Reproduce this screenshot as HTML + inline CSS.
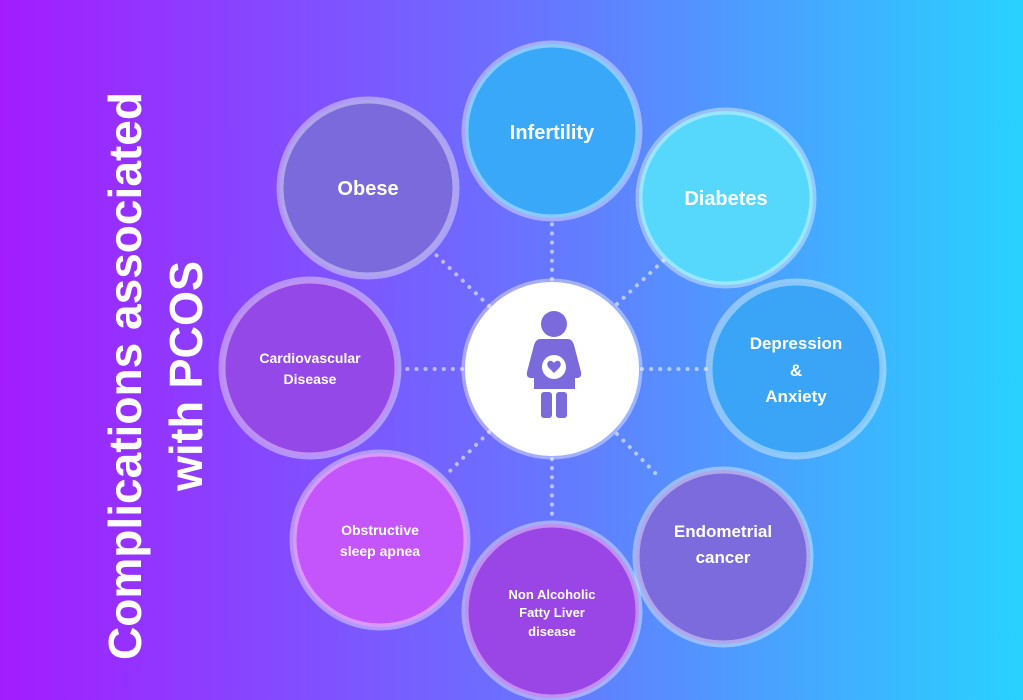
<!DOCTYPE html>
<html><head><meta charset="utf-8"><style>
html,body{margin:0;padding:0;width:1023px;height:700px;overflow:hidden}
svg{display:block}
text{font-family:"Liberation Sans",sans-serif;font-weight:bold;fill:#fff}
</style></head><body>
<svg width="1023" height="700" viewBox="0 0 1023 700">
<defs>
<linearGradient id="bg" x1="0" y1="0" x2="1" y2="0">
<stop offset="0" stop-color="#a31cff"/>
<stop offset="0.5" stop-color="#6b70ff"/>
<stop offset="1" stop-color="#28d2ff"/>
</linearGradient>
</defs>
<rect width="1023" height="700" fill="url(#bg)"/>
<g stroke="#fff" stroke-opacity="0.55" stroke-width="4" stroke-linecap="round" stroke-dasharray="0.1 9" fill="none">
<line x1="552" y1="279" x2="552" y2="221"/>
<line x1="489" y1="306" x2="433" y2="252"/>
<line x1="617" y1="304" x2="664" y2="260"/>
<line x1="462" y1="369" x2="402" y2="369"/>
<line x1="642" y1="369" x2="706" y2="369"/>
<line x1="489" y1="432" x2="445" y2="476"/>
<line x1="617" y1="434" x2="660" y2="478"/>
<line x1="552" y1="459" x2="552" y2="521"/>
</g>
<g stroke="#fff" stroke-opacity="0.4" stroke-width="7">
<circle cx="552" cy="131" r="87" fill="#3aa8f8"/>
<circle cx="368" cy="188" r="88" fill="#7b6adb"/>
<circle cx="726" cy="198" r="87" fill="#55d8fc"/>
<circle cx="310" cy="368" r="88" fill="#9548e8"/>
<circle cx="796" cy="369" r="87" fill="#3aa4f6"/>
<circle cx="380" cy="540" r="87" fill="#c454fb"/>
<circle cx="552" cy="611" r="87" fill="#9a45e6"/>
<circle cx="723" cy="557" r="87" fill="#7c6bdd"/>
<circle cx="552" cy="369" r="87" fill="#fff"/>
</g>
<g fill="#7b6adb">
<circle cx="554" cy="324" r="13"/>
<path d="M540 339 H568 Q572 339 574 345 L581 372 Q582 377 578 378 L575 378 L575 389 H534 L534 378 L530 378 Q526 377 527 372 L534 345 Q536 339 540 339 Z"/>
<rect x="541" y="392" width="11" height="26" rx="3"/>
<rect x="556" y="392" width="11" height="26" rx="3"/>
<circle cx="554" cy="367" r="12" fill="#fff"/>
<path d="M554 373 L548 367 Q546 363 549 361 Q552 360 554 363 Q556 360 559 361 Q562 363 560 367 Z"/>
</g>
<g text-anchor="middle">
<text x="552" y="139" font-size="20">Infertility</text>
<text x="368" y="195" font-size="20">Obese</text>
<text x="726" y="205" font-size="20">Diabetes</text>
<text x="310" y="363" font-size="14">Cardiovascular</text>
<text x="310" y="384" font-size="14">Disease</text>
<text x="796" y="349" font-size="17">Depression</text>
<text x="796" y="376" font-size="17">&amp;</text>
<text x="796" y="402" font-size="17">Anxiety</text>
<text x="723" y="537" font-size="17">Endometrial</text>
<text x="723" y="563" font-size="17">cancer</text>
<text x="380" y="535" font-size="14">Obstructive</text>
<text x="380" y="556" font-size="14">sleep apnea</text>
<text x="552" y="599" font-size="13">Non Alcoholic</text>
<text x="552" y="617" font-size="13">Fatty Liver</text>
<text x="552" y="636" font-size="13">disease</text>
</g>
<g transform="translate(0,0)">
<text transform="translate(141,376) rotate(-90)" text-anchor="middle" font-size="46" textLength="568" lengthAdjust="spacingAndGlyphs">Complications associated</text>
<text transform="translate(202,376) rotate(-90)" text-anchor="middle" font-size="46" textLength="230" lengthAdjust="spacingAndGlyphs">with PCOS</text>
</g>
</svg>
</body></html>
